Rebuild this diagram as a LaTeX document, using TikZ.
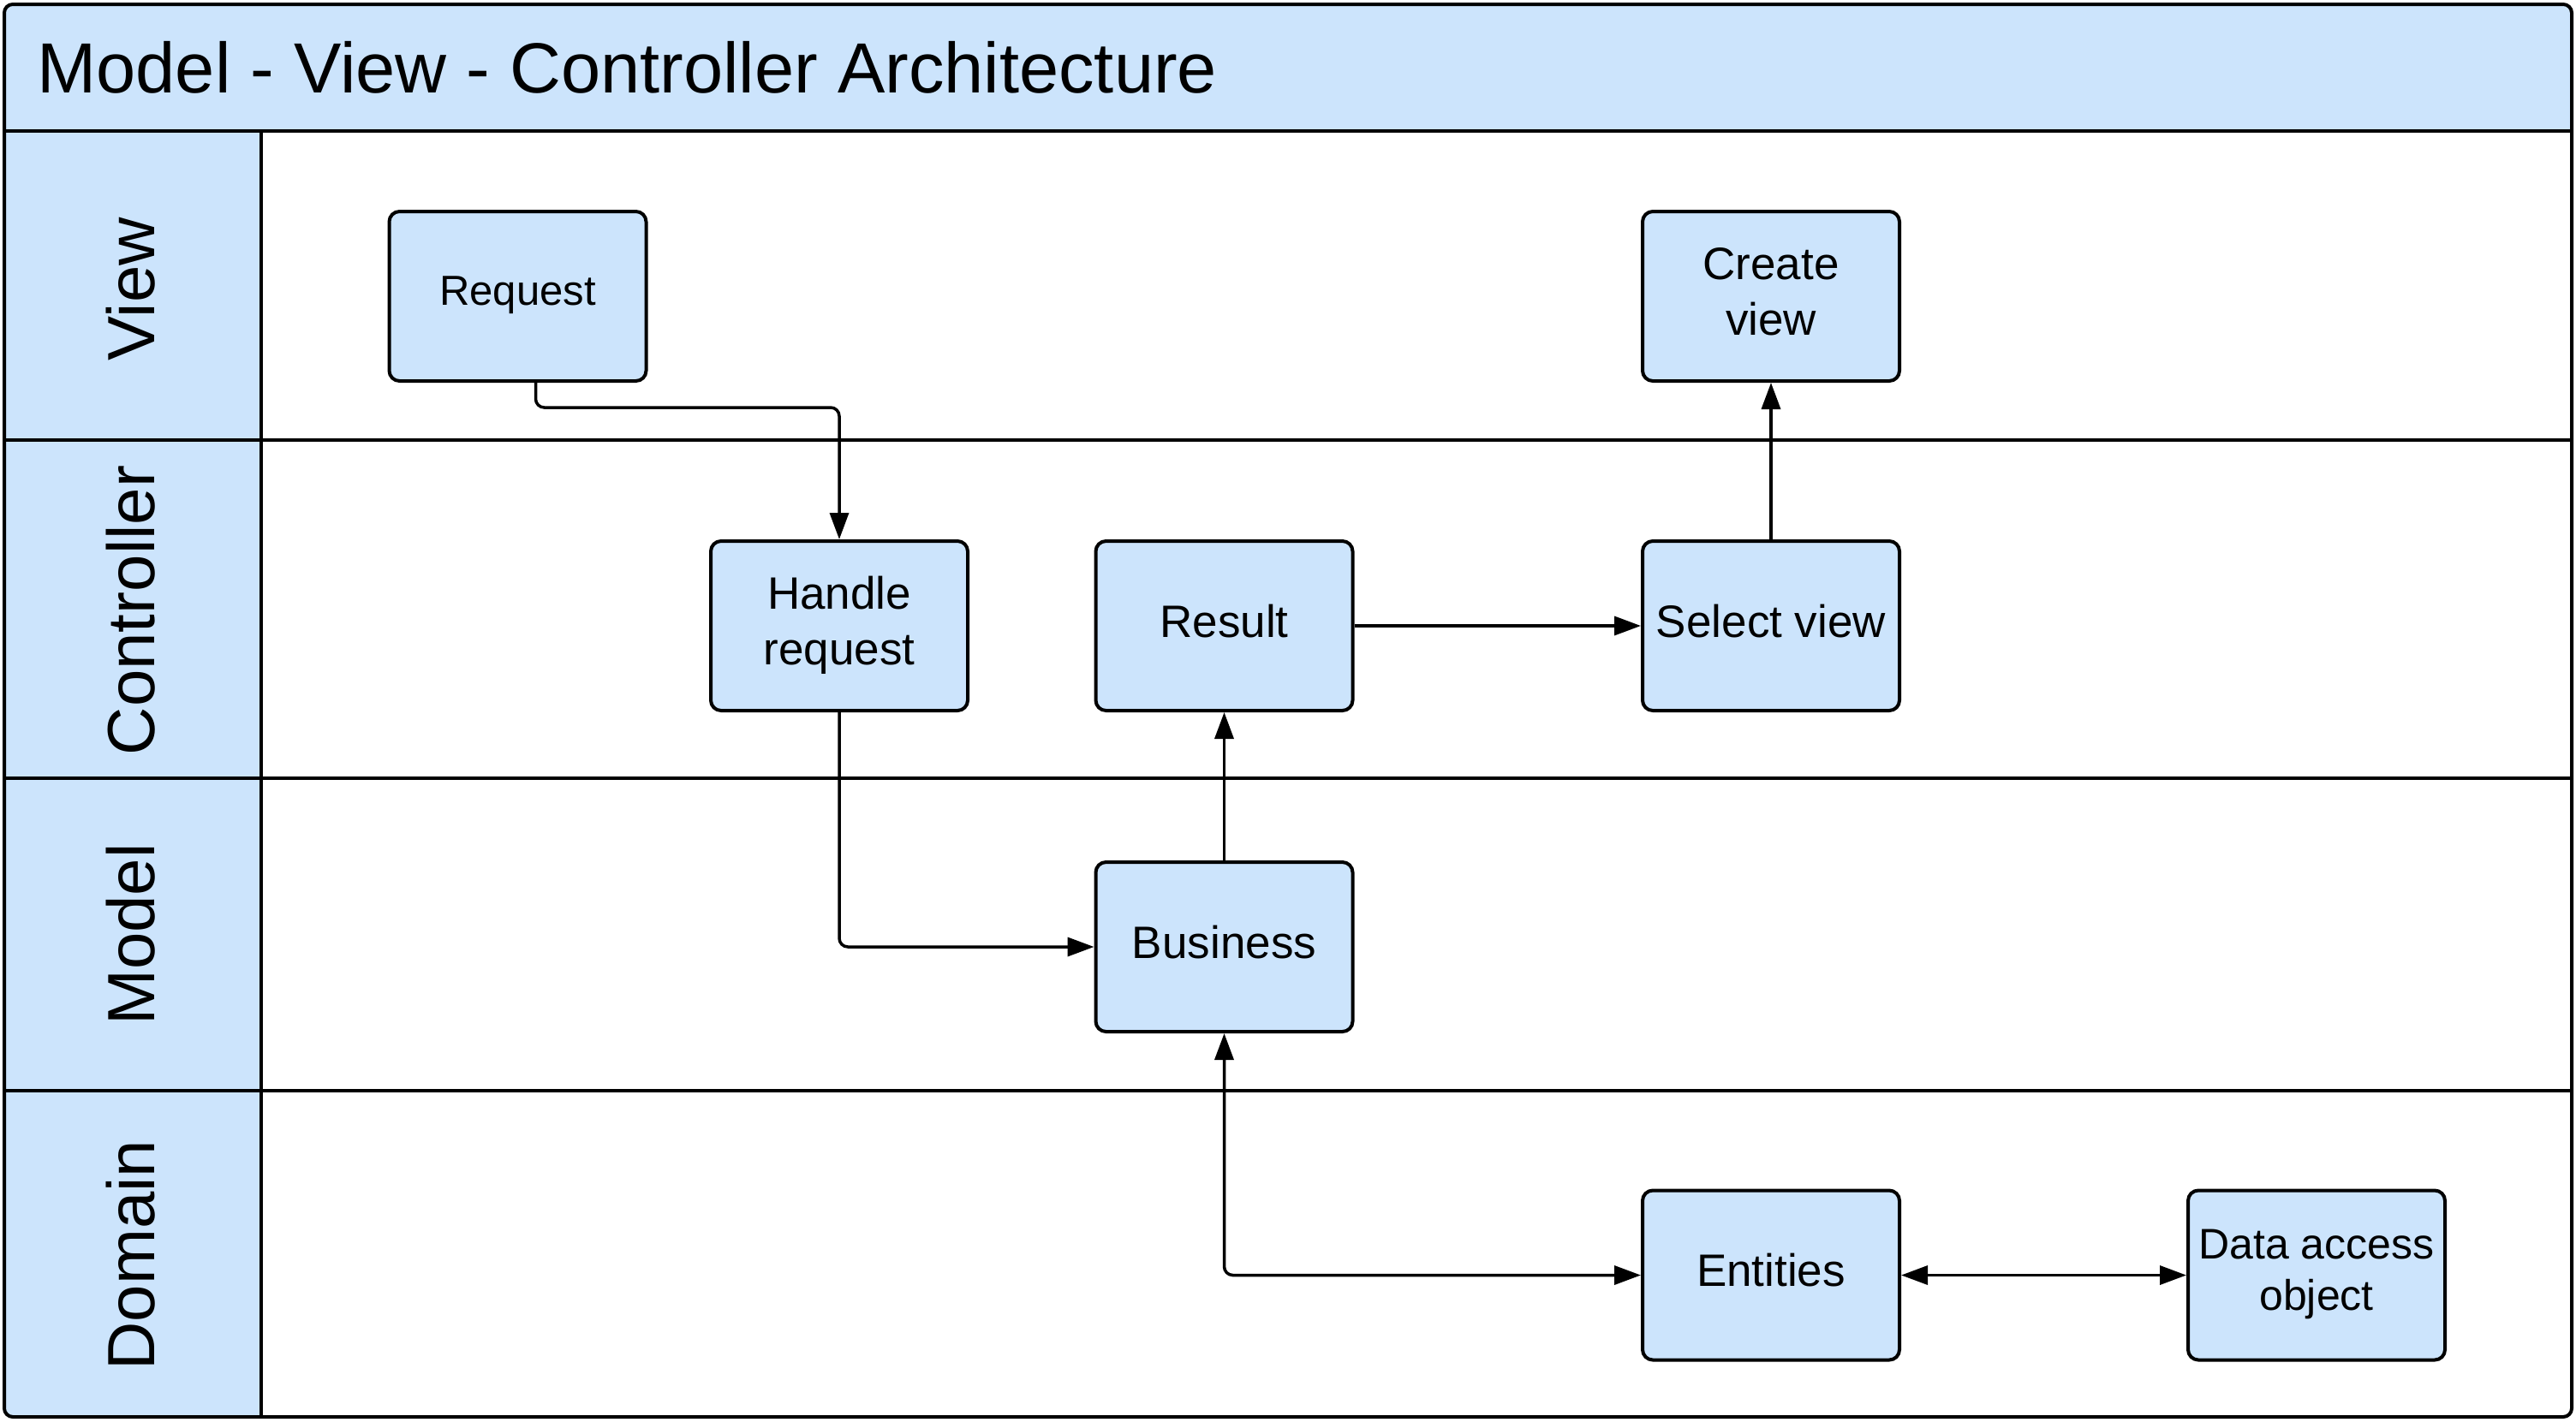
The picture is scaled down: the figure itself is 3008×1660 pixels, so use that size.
\documentclass[tikz,border=0pt]{standalone}
\usepackage{fontspec}
\setmainfont{Liberation Sans}
\usetikzlibrary{arrows.meta}
\definecolor{boxblue}{RGB}{204,228,252}
\begin{document}
\begin{tikzpicture}[x=1pt,y=-1pt,
  box/.style={draw=black, fill=boxblue, line width=4pt, rounded corners=12pt,
    minimum width=300pt, minimum height=198pt, inner sep=0pt, align=center,
    text depth=12pt, font=\fontsize{53}{65}\selectfont},
  arr/.tip={Triangle[length=31pt,width=22pt]},
  conn/.style={line width=3.5pt, rounded corners=10pt, -arr},
  dconn/.style={line width=3.5pt, rounded corners=10pt, arr-arr},
  lane/.style={rotate=90, font=\fontsize{78}{90}\selectfont},
  sep/.style={line width=4pt}]
\useasboundingbox (0,0) rectangle (3008,1660);
% backgrounds
\begin{scope}
  \clip[rounded corners=10pt] (5,5) rectangle (3003,1655);
  \fill[boxblue] (5,5) rectangle (3003,153);
  \fill[boxblue] (5,153) rectangle (305,1655);
\end{scope}
\draw[sep, rounded corners=10pt] (5,5) rectangle (3003,1655);
\draw[sep] (5,153) -- (3003,153);
\draw[sep] (305,153) -- (305,1655);
\draw[sep] (5,514) -- (3003,514);
\draw[sep] (5,909) -- (3003,909);
\draw[sep] (5,1274) -- (3003,1274);
% title
\node[anchor=west, font=\fontsize{83}{100}\selectfont] (title) at (40,79) {Model - View - Controller\ Architecture};
% lane labels
\node[lane] (lview) at (153,338) {View};
\node[lane] (lctrl) at (153,713) {Controller};
\node[lane] (lmodel) at (153,1091.5) {Model};
\node[lane] (ldomain) at (153,1466) {Domain};
% boxes
\node[box, font=\fontsize{49}{60}\selectfont] (req) at (604.5,346) {Request};
\node[box] (cv) at (2068,346) {Create\\view};
\node[box] (hr) at (980,731) {Handle\\request};
\node[box] (res) at (1429.5,731) {Result};
\node[box] (sv) at (2068,731) {Select view};
\node[box] (bus) at (1429.5,1106) {Business};
\node[box] (ent) at (2068,1489.5) {Entities};
\node[box, font=\fontsize{50}{60}\selectfont] (dao) at (2705,1489.5) {Data access\\object};
% connectors
\draw[conn] ([xshift=21pt]req.south) -- ++(0,29) -| (hr.north);
\draw[conn] (hr.south) |- (bus.west);
\draw[conn] (bus.north) -- (res.south);
\draw[conn] (res.east) -- (sv.west);
\draw[conn] (sv.north) -- (cv.south);
\draw[dconn] (bus.south) |- (ent.west);
\draw[dconn] (ent.east) -- (dao.west);
\end{tikzpicture}
\end{document}
